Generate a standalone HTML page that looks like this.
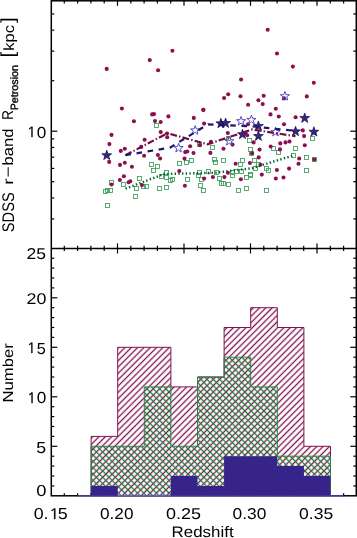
<!DOCTYPE html>
<html><head><meta charset="utf-8"><style>
html,body{margin:0;padding:0;background:#fff;width:357px;height:538px;overflow:hidden;position:relative}
</style></head><body>
<svg width="357" height="538" viewBox="0 0 357 538" style="position:absolute;left:0;top:0" text-rendering="geometricPrecision">
<g stroke="#000" stroke-width="1.5" fill="none">
<rect x="51.3" y="0.8" width="305.0" height="495.0"/>
<line x1="51.3" y1="248.4" x2="356.3" y2="248.4"/>
</g>
<g stroke="#000" stroke-width="1.2">
<line x1="64.30" y1="0.80" x2="64.30" y2="3.40"/>
<line x1="64.30" y1="248.40" x2="64.30" y2="245.80"/>
<line x1="64.30" y1="248.40" x2="64.30" y2="251.00"/>
<line x1="64.30" y1="495.80" x2="64.30" y2="493.20"/>
<line x1="77.60" y1="0.80" x2="77.60" y2="3.40"/>
<line x1="77.60" y1="248.40" x2="77.60" y2="245.80"/>
<line x1="77.60" y1="248.40" x2="77.60" y2="251.00"/>
<line x1="77.60" y1="495.80" x2="77.60" y2="493.20"/>
<line x1="90.90" y1="0.80" x2="90.90" y2="3.40"/>
<line x1="90.90" y1="248.40" x2="90.90" y2="245.80"/>
<line x1="90.90" y1="248.40" x2="90.90" y2="251.00"/>
<line x1="90.90" y1="495.80" x2="90.90" y2="493.20"/>
<line x1="104.20" y1="0.80" x2="104.20" y2="3.40"/>
<line x1="104.20" y1="248.40" x2="104.20" y2="245.80"/>
<line x1="104.20" y1="248.40" x2="104.20" y2="251.00"/>
<line x1="104.20" y1="495.80" x2="104.20" y2="493.20"/>
<line x1="117.50" y1="0.80" x2="117.50" y2="5.80"/>
<line x1="117.50" y1="248.40" x2="117.50" y2="243.40"/>
<line x1="117.50" y1="248.40" x2="117.50" y2="253.40"/>
<line x1="117.50" y1="495.80" x2="117.50" y2="490.80"/>
<line x1="130.80" y1="0.80" x2="130.80" y2="3.40"/>
<line x1="130.80" y1="248.40" x2="130.80" y2="245.80"/>
<line x1="130.80" y1="248.40" x2="130.80" y2="251.00"/>
<line x1="130.80" y1="495.80" x2="130.80" y2="493.20"/>
<line x1="144.10" y1="0.80" x2="144.10" y2="3.40"/>
<line x1="144.10" y1="248.40" x2="144.10" y2="245.80"/>
<line x1="144.10" y1="248.40" x2="144.10" y2="251.00"/>
<line x1="144.10" y1="495.80" x2="144.10" y2="493.20"/>
<line x1="157.40" y1="0.80" x2="157.40" y2="3.40"/>
<line x1="157.40" y1="248.40" x2="157.40" y2="245.80"/>
<line x1="157.40" y1="248.40" x2="157.40" y2="251.00"/>
<line x1="157.40" y1="495.80" x2="157.40" y2="493.20"/>
<line x1="170.70" y1="0.80" x2="170.70" y2="3.40"/>
<line x1="170.70" y1="248.40" x2="170.70" y2="245.80"/>
<line x1="170.70" y1="248.40" x2="170.70" y2="251.00"/>
<line x1="170.70" y1="495.80" x2="170.70" y2="493.20"/>
<line x1="184.00" y1="0.80" x2="184.00" y2="5.80"/>
<line x1="184.00" y1="248.40" x2="184.00" y2="243.40"/>
<line x1="184.00" y1="248.40" x2="184.00" y2="253.40"/>
<line x1="184.00" y1="495.80" x2="184.00" y2="490.80"/>
<line x1="197.30" y1="0.80" x2="197.30" y2="3.40"/>
<line x1="197.30" y1="248.40" x2="197.30" y2="245.80"/>
<line x1="197.30" y1="248.40" x2="197.30" y2="251.00"/>
<line x1="197.30" y1="495.80" x2="197.30" y2="493.20"/>
<line x1="210.60" y1="0.80" x2="210.60" y2="3.40"/>
<line x1="210.60" y1="248.40" x2="210.60" y2="245.80"/>
<line x1="210.60" y1="248.40" x2="210.60" y2="251.00"/>
<line x1="210.60" y1="495.80" x2="210.60" y2="493.20"/>
<line x1="223.90" y1="0.80" x2="223.90" y2="3.40"/>
<line x1="223.90" y1="248.40" x2="223.90" y2="245.80"/>
<line x1="223.90" y1="248.40" x2="223.90" y2="251.00"/>
<line x1="223.90" y1="495.80" x2="223.90" y2="493.20"/>
<line x1="237.20" y1="0.80" x2="237.20" y2="3.40"/>
<line x1="237.20" y1="248.40" x2="237.20" y2="245.80"/>
<line x1="237.20" y1="248.40" x2="237.20" y2="251.00"/>
<line x1="237.20" y1="495.80" x2="237.20" y2="493.20"/>
<line x1="250.50" y1="0.80" x2="250.50" y2="5.80"/>
<line x1="250.50" y1="248.40" x2="250.50" y2="243.40"/>
<line x1="250.50" y1="248.40" x2="250.50" y2="253.40"/>
<line x1="250.50" y1="495.80" x2="250.50" y2="490.80"/>
<line x1="263.80" y1="0.80" x2="263.80" y2="3.40"/>
<line x1="263.80" y1="248.40" x2="263.80" y2="245.80"/>
<line x1="263.80" y1="248.40" x2="263.80" y2="251.00"/>
<line x1="263.80" y1="495.80" x2="263.80" y2="493.20"/>
<line x1="277.10" y1="0.80" x2="277.10" y2="3.40"/>
<line x1="277.10" y1="248.40" x2="277.10" y2="245.80"/>
<line x1="277.10" y1="248.40" x2="277.10" y2="251.00"/>
<line x1="277.10" y1="495.80" x2="277.10" y2="493.20"/>
<line x1="290.40" y1="0.80" x2="290.40" y2="3.40"/>
<line x1="290.40" y1="248.40" x2="290.40" y2="245.80"/>
<line x1="290.40" y1="248.40" x2="290.40" y2="251.00"/>
<line x1="290.40" y1="495.80" x2="290.40" y2="493.20"/>
<line x1="303.70" y1="0.80" x2="303.70" y2="3.40"/>
<line x1="303.70" y1="248.40" x2="303.70" y2="245.80"/>
<line x1="303.70" y1="248.40" x2="303.70" y2="251.00"/>
<line x1="303.70" y1="495.80" x2="303.70" y2="493.20"/>
<line x1="317.00" y1="0.80" x2="317.00" y2="5.80"/>
<line x1="317.00" y1="248.40" x2="317.00" y2="243.40"/>
<line x1="317.00" y1="248.40" x2="317.00" y2="253.40"/>
<line x1="317.00" y1="495.80" x2="317.00" y2="490.80"/>
<line x1="330.30" y1="0.80" x2="330.30" y2="3.40"/>
<line x1="330.30" y1="248.40" x2="330.30" y2="245.80"/>
<line x1="330.30" y1="248.40" x2="330.30" y2="251.00"/>
<line x1="330.30" y1="495.80" x2="330.30" y2="493.20"/>
<line x1="343.60" y1="0.80" x2="343.60" y2="3.40"/>
<line x1="343.60" y1="248.40" x2="343.60" y2="245.80"/>
<line x1="343.60" y1="248.40" x2="343.60" y2="251.00"/>
<line x1="343.60" y1="495.80" x2="343.60" y2="493.20"/>
<line x1="51.3" y1="485.90" x2="54.3" y2="485.90"/>
<line x1="356.3" y1="485.90" x2="353.3" y2="485.90"/>
<line x1="51.3" y1="476.00" x2="54.3" y2="476.00"/>
<line x1="356.3" y1="476.00" x2="353.3" y2="476.00"/>
<line x1="51.3" y1="466.10" x2="54.3" y2="466.10"/>
<line x1="356.3" y1="466.10" x2="353.3" y2="466.10"/>
<line x1="51.3" y1="456.20" x2="54.3" y2="456.20"/>
<line x1="356.3" y1="456.20" x2="353.3" y2="456.20"/>
<line x1="51.3" y1="446.30" x2="57.3" y2="446.30"/>
<line x1="356.3" y1="446.30" x2="350.3" y2="446.30"/>
<line x1="51.3" y1="436.40" x2="54.3" y2="436.40"/>
<line x1="356.3" y1="436.40" x2="353.3" y2="436.40"/>
<line x1="51.3" y1="426.50" x2="54.3" y2="426.50"/>
<line x1="356.3" y1="426.50" x2="353.3" y2="426.50"/>
<line x1="51.3" y1="416.60" x2="54.3" y2="416.60"/>
<line x1="356.3" y1="416.60" x2="353.3" y2="416.60"/>
<line x1="51.3" y1="406.70" x2="54.3" y2="406.70"/>
<line x1="356.3" y1="406.70" x2="353.3" y2="406.70"/>
<line x1="51.3" y1="396.80" x2="57.3" y2="396.80"/>
<line x1="356.3" y1="396.80" x2="350.3" y2="396.80"/>
<line x1="51.3" y1="386.90" x2="54.3" y2="386.90"/>
<line x1="356.3" y1="386.90" x2="353.3" y2="386.90"/>
<line x1="51.3" y1="377.00" x2="54.3" y2="377.00"/>
<line x1="356.3" y1="377.00" x2="353.3" y2="377.00"/>
<line x1="51.3" y1="367.10" x2="54.3" y2="367.10"/>
<line x1="356.3" y1="367.10" x2="353.3" y2="367.10"/>
<line x1="51.3" y1="357.20" x2="54.3" y2="357.20"/>
<line x1="356.3" y1="357.20" x2="353.3" y2="357.20"/>
<line x1="51.3" y1="347.30" x2="57.3" y2="347.30"/>
<line x1="356.3" y1="347.30" x2="350.3" y2="347.30"/>
<line x1="51.3" y1="337.40" x2="54.3" y2="337.40"/>
<line x1="356.3" y1="337.40" x2="353.3" y2="337.40"/>
<line x1="51.3" y1="327.50" x2="54.3" y2="327.50"/>
<line x1="356.3" y1="327.50" x2="353.3" y2="327.50"/>
<line x1="51.3" y1="317.60" x2="54.3" y2="317.60"/>
<line x1="356.3" y1="317.60" x2="353.3" y2="317.60"/>
<line x1="51.3" y1="307.70" x2="54.3" y2="307.70"/>
<line x1="356.3" y1="307.70" x2="353.3" y2="307.70"/>
<line x1="51.3" y1="297.80" x2="57.3" y2="297.80"/>
<line x1="356.3" y1="297.80" x2="350.3" y2="297.80"/>
<line x1="51.3" y1="287.90" x2="54.3" y2="287.90"/>
<line x1="356.3" y1="287.90" x2="353.3" y2="287.90"/>
<line x1="51.3" y1="278.00" x2="54.3" y2="278.00"/>
<line x1="356.3" y1="278.00" x2="353.3" y2="278.00"/>
<line x1="51.3" y1="268.10" x2="54.3" y2="268.10"/>
<line x1="356.3" y1="268.10" x2="353.3" y2="268.10"/>
<line x1="51.3" y1="258.20" x2="54.3" y2="258.20"/>
<line x1="356.3" y1="258.20" x2="353.3" y2="258.20"/>
<line x1="51.3" y1="218.94" x2="54.3" y2="218.94"/>
<line x1="356.3" y1="218.94" x2="353.3" y2="218.94"/>
<line x1="51.3" y1="197.97" x2="54.3" y2="197.97"/>
<line x1="356.3" y1="197.97" x2="353.3" y2="197.97"/>
<line x1="51.3" y1="181.71" x2="54.3" y2="181.71"/>
<line x1="356.3" y1="181.71" x2="353.3" y2="181.71"/>
<line x1="51.3" y1="168.43" x2="54.3" y2="168.43"/>
<line x1="356.3" y1="168.43" x2="353.3" y2="168.43"/>
<line x1="51.3" y1="157.19" x2="54.3" y2="157.19"/>
<line x1="356.3" y1="157.19" x2="353.3" y2="157.19"/>
<line x1="51.3" y1="147.46" x2="54.3" y2="147.46"/>
<line x1="356.3" y1="147.46" x2="353.3" y2="147.46"/>
<line x1="51.3" y1="138.88" x2="54.3" y2="138.88"/>
<line x1="356.3" y1="138.88" x2="353.3" y2="138.88"/>
<line x1="51.3" y1="131.20" x2="57.3" y2="131.20"/>
<line x1="356.3" y1="131.20" x2="350.3" y2="131.20"/>
<line x1="51.3" y1="80.69" x2="54.3" y2="80.69"/>
<line x1="356.3" y1="80.69" x2="353.3" y2="80.69"/>
<line x1="51.3" y1="51.14" x2="54.3" y2="51.14"/>
<line x1="356.3" y1="51.14" x2="353.3" y2="51.14"/>
<line x1="51.3" y1="30.17" x2="54.3" y2="30.17"/>
<line x1="356.3" y1="30.17" x2="353.3" y2="30.17"/>
<line x1="51.3" y1="13.91" x2="54.3" y2="13.91"/>
<line x1="356.3" y1="13.91" x2="353.3" y2="13.91"/>
</g>
<defs>
<pattern id="hp" patternUnits="userSpaceOnUse" width="4.4689" height="4.4689" patternTransform="rotate(45) translate(1.209,0)"><rect x="1.584" y="-1" width="1.3" height="6.469" fill="#80124f"/></pattern>
<pattern id="hg" patternUnits="userSpaceOnUse" width="4.4689" height="4.4689" patternTransform="rotate(-45) translate(1.032,0)"><rect x="1.594" y="-1" width="1.28" height="6.469" fill="#157c35"/></pattern>
</defs>
<path d="M91.10,495.80 L91.10,436.40 L117.70,436.40 L117.70,347.30 L144.30,347.30 L144.30,347.30 L170.90,347.30 L170.90,386.90 L197.50,386.90 L197.50,377.00 L224.10,377.00 L224.10,327.50 L250.70,327.50 L250.70,307.70 L277.30,307.70 L277.30,327.50 L303.90,327.50 L303.90,446.30 L330.50,446.30 L330.50,495.80 Z" fill="#fff" stroke="none"/>
<path d="M91.10,495.80 L91.10,436.40 L117.70,436.40 L117.70,347.30 L144.30,347.30 L144.30,347.30 L170.90,347.30 L170.90,386.90 L197.50,386.90 L197.50,377.00 L224.10,377.00 L224.10,327.50 L250.70,327.50 L250.70,307.70 L277.30,307.70 L277.30,327.50 L303.90,327.50 L303.90,446.30 L330.50,446.30 L330.50,495.80 Z" fill="url(#hp)" stroke="none"/>
<path d="M91.10,495.80 L91.10,446.30 L117.70,446.30 L117.70,446.30 L144.30,446.30 L144.30,386.90 L170.90,386.90 L170.90,446.30 L197.50,446.30 L197.50,377.00 L224.10,377.00 L224.10,357.20 L250.70,357.20 L250.70,386.90 L277.30,386.90 L277.30,456.20 L303.90,456.20 L303.90,456.20 L330.50,456.20 L330.50,495.80 Z" fill="url(#hg)" stroke="none"/>
<path d="M91.10,495.80 L91.10,436.40 L117.70,436.40 L117.70,347.30 L144.30,347.30 L144.30,347.30 L170.90,347.30 L170.90,386.90 L197.50,386.90 L197.50,377.00 L224.10,377.00 L224.10,327.50 L250.70,327.50 L250.70,307.70 L277.30,307.70 L277.30,327.50 L303.90,327.50 L303.90,446.30 L330.50,446.30 L330.50,495.80" fill="none" stroke="#80124f" stroke-width="1"/>
<path d="M91.10,495.80 L91.10,446.30 L117.70,446.30 L117.70,446.30 L144.30,446.30 L144.30,386.90 L170.90,386.90 L170.90,446.30 L197.50,446.30 L197.50,377.00 L224.10,377.00 L224.10,357.20 L250.70,357.20 L250.70,386.90 L277.30,386.90 L277.30,456.20 L303.90,456.20 L303.90,456.20 L330.50,456.20 L330.50,495.80" fill="none" stroke="#1f8a3c" stroke-width="1"/>
<line x1="77.60" y1="495.80" x2="343.60" y2="495.80" stroke="#5b45c8" stroke-width="1.2"/>
<path d="M91.10,495.80 L91.10,485.90 L117.70,485.90 L117.70,495.80 L144.30,495.80 L144.30,495.80 L170.90,495.80 L170.90,476.00 L197.50,476.00 L197.50,485.90 L224.10,485.90 L224.10,456.20 L250.70,456.20 L250.70,456.20 L277.30,456.20 L277.30,466.10 L303.90,466.10 L303.90,476.00 L330.50,476.00 L330.50,495.80 Z" fill="#36248a" stroke="none"/>
<g fill="none" stroke="#3a9e5c" stroke-width="0.85">
<rect x="154.5" y="123.5" width="4" height="4"/>
<rect x="109.5" y="180.5" width="4" height="4"/>
<rect x="103.5" y="189.5" width="4" height="4"/>
<rect x="105.5" y="188.5" width="4" height="4"/>
<rect x="108.5" y="188.5" width="4" height="4"/>
<rect x="121.5" y="182.5" width="4" height="4"/>
<rect x="134.5" y="186.5" width="4" height="4"/>
<rect x="137.5" y="176.5" width="4" height="4"/>
<rect x="133.5" y="194.5" width="4" height="4"/>
<rect x="105.5" y="203.5" width="4" height="4"/>
<rect x="141.5" y="184.5" width="4" height="4"/>
<rect x="149.5" y="162.5" width="4" height="4"/>
<rect x="155.5" y="164.5" width="4" height="4"/>
<rect x="151.5" y="168.5" width="4" height="4"/>
<rect x="177.5" y="161.5" width="4" height="4"/>
<rect x="184.5" y="160.5" width="4" height="4"/>
<rect x="189.5" y="158.5" width="4" height="4"/>
<rect x="164.5" y="170.5" width="4" height="4"/>
<rect x="144.5" y="184.5" width="4" height="4"/>
<rect x="157.5" y="186.5" width="4" height="4"/>
<rect x="164.5" y="185.5" width="4" height="4"/>
<rect x="159.5" y="174.5" width="4" height="4"/>
<rect x="164.5" y="175.5" width="4" height="4"/>
<rect x="168.5" y="178.5" width="4" height="4"/>
<rect x="170.5" y="177.5" width="4" height="4"/>
<rect x="185.5" y="177.5" width="4" height="4"/>
<rect x="197.5" y="142.5" width="4" height="4"/>
<rect x="210.5" y="145.5" width="4" height="4"/>
<rect x="226.5" y="136.5" width="4" height="4"/>
<rect x="212.5" y="157.5" width="4" height="4"/>
<rect x="213.5" y="160.5" width="4" height="4"/>
<rect x="221.5" y="158.5" width="4" height="4"/>
<rect x="238.5" y="162.5" width="4" height="4"/>
<rect x="240.5" y="158.5" width="4" height="4"/>
<rect x="197.5" y="170.5" width="4" height="4"/>
<rect x="206.5" y="169.5" width="4" height="4"/>
<rect x="214.5" y="170.5" width="4" height="4"/>
<rect x="230.5" y="170.5" width="4" height="4"/>
<rect x="234.5" y="169.5" width="4" height="4"/>
<rect x="239.5" y="169.5" width="4" height="4"/>
<rect x="196.5" y="173.5" width="4" height="4"/>
<rect x="199.5" y="177.5" width="4" height="4"/>
<rect x="198.5" y="183.5" width="4" height="4"/>
<rect x="201.5" y="188.5" width="4" height="4"/>
<rect x="217.5" y="176.5" width="4" height="4"/>
<rect x="219.5" y="181.5" width="4" height="4"/>
<rect x="221.5" y="181.5" width="4" height="4"/>
<rect x="226.5" y="182.5" width="4" height="4"/>
<rect x="230.5" y="173.5" width="4" height="4"/>
<rect x="236.5" y="188.5" width="4" height="4"/>
<rect x="247.5" y="138.5" width="4" height="4"/>
<rect x="248.5" y="147.5" width="4" height="4"/>
<rect x="249.5" y="151.5" width="4" height="4"/>
<rect x="271.5" y="146.5" width="4" height="4"/>
<rect x="276.5" y="150.5" width="4" height="4"/>
<rect x="293.5" y="146.5" width="4" height="4"/>
<rect x="291.5" y="153.5" width="4" height="4"/>
<rect x="252.5" y="158.5" width="4" height="4"/>
<rect x="253.5" y="166.5" width="4" height="4"/>
<rect x="256.5" y="162.5" width="4" height="4"/>
<rect x="264.5" y="166.5" width="4" height="4"/>
<rect x="266.5" y="168.5" width="4" height="4"/>
<rect x="248.5" y="172.5" width="4" height="4"/>
<rect x="244.5" y="175.5" width="4" height="4"/>
<rect x="248.5" y="173.5" width="4" height="4"/>
<rect x="244.5" y="186.5" width="4" height="4"/>
<rect x="264.5" y="188.5" width="4" height="4"/>
<rect x="310.5" y="136.5" width="4" height="4"/>
<rect x="304.5" y="155.5" width="4" height="4"/>
<rect x="312.5" y="157.5" width="4" height="4"/>
<rect x="304.5" y="168.5" width="4" height="4"/>
</g>
<g fill="#8c1050">
<circle cx="106.7" cy="68.9" r="2.05"/>
<circle cx="149.8" cy="60.1" r="2.05"/>
<circle cx="158.1" cy="70.2" r="2.05"/>
<circle cx="172.4" cy="50.8" r="2.05"/>
<circle cx="241.1" cy="79.5" r="2.05"/>
<circle cx="267.7" cy="29.8" r="2.05"/>
<circle cx="277.0" cy="53.5" r="2.05"/>
<circle cx="292.9" cy="66.6" r="2.05"/>
<circle cx="313.8" cy="82.8" r="2.05"/>
<circle cx="306.8" cy="96.4" r="2.05"/>
<circle cx="228.2" cy="94.2" r="2.05"/>
<circle cx="224.1" cy="98.0" r="2.05"/>
<circle cx="240.5" cy="96.3" r="2.05"/>
<circle cx="248.1" cy="104.7" r="2.05"/>
<circle cx="258.4" cy="100.2" r="2.05"/>
<circle cx="263.7" cy="95.8" r="2.05"/>
<circle cx="262.7" cy="104.1" r="2.05"/>
<circle cx="270.5" cy="114.4" r="2.05"/>
<circle cx="275.8" cy="108.8" r="2.05"/>
<circle cx="284.1" cy="98.4" r="2.05"/>
<circle cx="278.8" cy="116.5" r="2.05"/>
<circle cx="295.6" cy="117.3" r="2.05"/>
<circle cx="121.9" cy="108.5" r="2.05"/>
<circle cx="133.9" cy="121.3" r="2.05"/>
<circle cx="111.5" cy="134.9" r="2.05"/>
<circle cx="152.1" cy="114.4" r="2.05"/>
<circle cx="154.0" cy="114.1" r="2.05"/>
<circle cx="168.4" cy="116.4" r="2.05"/>
<circle cx="155.0" cy="121.0" r="2.05"/>
<circle cx="160.7" cy="122.0" r="2.05"/>
<circle cx="193.8" cy="117.9" r="2.05"/>
<circle cx="203.3" cy="109.9" r="2.05"/>
<circle cx="160.7" cy="132.1" r="2.05"/>
<circle cx="167.0" cy="133.5" r="2.05"/>
<circle cx="167.2" cy="137.3" r="2.05"/>
<circle cx="144.6" cy="139.7" r="2.05"/>
<circle cx="141.2" cy="146.9" r="2.05"/>
<circle cx="144.1" cy="155.8" r="2.05"/>
<circle cx="109.4" cy="144.1" r="2.05"/>
<circle cx="109.2" cy="161.9" r="2.05"/>
<circle cx="120.8" cy="150.9" r="2.05"/>
<circle cx="124.8" cy="148.7" r="2.05"/>
<circle cx="120.0" cy="164.9" r="2.05"/>
<circle cx="124.8" cy="162.7" r="2.05"/>
<circle cx="131.9" cy="166.7" r="2.05"/>
<circle cx="123.9" cy="176.2" r="2.05"/>
<circle cx="119.9" cy="180.0" r="2.05"/>
<circle cx="128.6" cy="182.3" r="2.05"/>
<circle cx="130.3" cy="181.3" r="2.05"/>
<circle cx="111.5" cy="184.5" r="2.05"/>
<circle cx="141.9" cy="185.1" r="2.05"/>
<circle cx="157.9" cy="155.0" r="2.05"/>
<circle cx="160.1" cy="158.5" r="2.05"/>
<circle cx="190.1" cy="146.2" r="2.05"/>
<circle cx="185.2" cy="152.1" r="2.05"/>
<circle cx="187.3" cy="151.5" r="2.05"/>
<circle cx="193.5" cy="153.0" r="2.05"/>
<circle cx="184.5" cy="158.5" r="2.05"/>
<circle cx="179.3" cy="171.1" r="2.05"/>
<circle cx="210.4" cy="152.9" r="2.05"/>
<circle cx="223.5" cy="148.8" r="2.05"/>
<circle cx="210.9" cy="141.8" r="2.05"/>
<circle cx="204.1" cy="123.6" r="2.05"/>
<circle cx="203.4" cy="109.8" r="2.05"/>
<circle cx="199.9" cy="145.1" r="2.05"/>
<circle cx="184.9" cy="185.8" r="2.05"/>
<circle cx="204.1" cy="178.5" r="2.05"/>
<circle cx="212.9" cy="177.1" r="2.05"/>
<circle cx="224.4" cy="177.1" r="2.05"/>
<circle cx="240.9" cy="179.2" r="2.05"/>
<circle cx="227.9" cy="172.8" r="2.05"/>
<circle cx="235.6" cy="163.7" r="2.05"/>
<circle cx="232.5" cy="144.6" r="2.05"/>
<circle cx="227.8" cy="133.0" r="2.05"/>
<circle cx="247.2" cy="135.3" r="2.05"/>
<circle cx="248.0" cy="124.3" r="2.05"/>
<circle cx="253.6" cy="142.4" r="2.05"/>
<circle cx="259.6" cy="149.6" r="2.05"/>
<circle cx="270.7" cy="146.5" r="2.05"/>
<circle cx="280.3" cy="143.4" r="2.05"/>
<circle cx="285.5" cy="142.4" r="2.05"/>
<circle cx="289.5" cy="141.5" r="2.05"/>
<circle cx="280.0" cy="149.4" r="2.05"/>
<circle cx="252.0" cy="153.2" r="2.05"/>
<circle cx="258.7" cy="157.4" r="2.05"/>
<circle cx="249.9" cy="163.0" r="2.05"/>
<circle cx="260.4" cy="164.7" r="2.05"/>
<circle cx="276.9" cy="170.0" r="2.05"/>
<circle cx="289.1" cy="168.6" r="2.05"/>
<circle cx="261.8" cy="174.6" r="2.05"/>
<circle cx="275.8" cy="178.5" r="2.05"/>
<circle cx="283.5" cy="177.5" r="2.05"/>
<circle cx="284.0" cy="124.3" r="2.05"/>
<circle cx="302.8" cy="130.4" r="2.05"/>
<circle cx="304.1" cy="136.1" r="2.05"/>
<circle cx="304.8" cy="145.2" r="2.05"/>
<circle cx="299.2" cy="158.5" r="2.05"/>
<circle cx="298.5" cy="163.7" r="2.05"/>
<circle cx="314.3" cy="159.5" r="2.05"/>
</g>
<g fill="#36248a" stroke="#140f40" stroke-width="0.7" stroke-linejoin="miter">
<polygon points="106.75,150.20 107.97,153.72 111.70,153.79 108.73,156.04 109.81,159.61 106.75,157.48 103.69,159.61 104.77,156.04 101.80,153.79 105.53,153.72"/>
<polygon points="220.90,118.30 222.12,121.82 225.85,121.89 222.88,124.14 223.96,127.71 220.90,125.58 217.84,127.71 218.92,124.14 215.95,121.89 219.68,121.82"/>
<polygon points="225.60,118.00 226.82,121.52 230.55,121.59 227.58,123.84 228.66,127.41 225.60,125.28 222.54,127.41 223.62,123.84 220.65,121.59 224.38,121.52"/>
<polygon points="242.50,129.20 243.72,132.72 247.45,132.79 244.48,135.04 245.56,138.61 242.50,136.48 239.44,138.61 240.52,135.04 237.55,132.79 241.28,132.72"/>
<polygon points="258.40,120.90 259.62,124.42 263.35,124.49 260.38,126.74 261.46,130.31 258.40,128.18 255.34,130.31 256.42,126.74 253.45,124.49 257.18,124.42"/>
<polygon points="258.40,131.00 259.62,134.52 263.35,134.59 260.38,136.84 261.46,140.41 258.40,138.28 255.34,140.41 256.42,136.84 253.45,134.59 257.18,134.52"/>
<polygon points="295.60,126.30 296.82,129.82 300.55,129.89 297.58,132.14 298.66,135.71 295.60,133.58 292.54,135.71 293.62,132.14 290.65,129.89 294.38,129.82"/>
<polygon points="304.70,113.00 305.92,116.52 309.65,116.59 306.68,118.84 307.76,122.41 304.70,120.28 301.64,122.41 302.72,118.84 299.75,116.59 303.48,116.52"/>
<polygon points="313.90,126.70 315.12,130.22 318.85,130.29 315.88,132.54 316.96,136.11 313.90,133.98 310.84,136.11 311.92,132.54 308.95,130.29 312.68,130.22"/>
</g>
<g fill="none" stroke="#463cc4" stroke-width="0.9">
<polygon points="178.60,143.30 179.73,146.55 183.17,146.62 180.43,148.69 181.42,151.98 178.60,150.02 175.78,151.98 176.77,148.69 174.03,146.62 177.47,146.55"/>
<polygon points="195.20,125.60 196.33,128.85 199.77,128.92 197.03,130.99 198.02,134.28 195.20,132.32 192.38,134.28 193.37,130.99 190.63,128.92 194.07,128.85"/>
<polygon points="229.30,136.40 230.43,139.65 233.87,139.72 231.13,141.79 232.12,145.08 229.30,143.12 226.48,145.08 227.47,141.79 224.73,139.72 228.17,139.65"/>
<polygon points="241.10,116.40 242.23,119.65 245.67,119.72 242.93,121.79 243.92,125.08 241.10,123.12 238.28,125.08 239.27,121.79 236.53,119.72 239.97,119.65"/>
<polygon points="251.40,115.10 252.53,118.35 255.97,118.42 253.23,120.49 254.22,123.78 251.40,121.82 248.58,123.78 249.57,120.49 246.83,118.42 250.27,118.35"/>
<polygon points="275.50,127.30 276.63,130.55 280.07,130.62 277.33,132.69 278.32,135.98 275.50,134.02 272.68,135.98 273.67,132.69 270.93,130.62 274.37,130.55"/>
<polygon points="284.90,91.40 286.03,94.65 289.47,94.72 286.73,96.79 287.72,100.08 284.90,98.12 282.08,100.08 283.07,96.79 280.33,94.72 283.77,94.65"/>
</g>
<polyline points="125.5,188.7 164,174.0 215,172.8 252,168.2 293.5,155.4" fill="none" stroke="#0b5e26" stroke-width="2.4" stroke-dasharray="1.4 2.3"/>
<polyline points="125.5,155.2 167.5,133.2 207.5,144.3 252,129.5 295.5,136.2" fill="none" stroke="#6e0f45" stroke-width="2.2" stroke-dasharray="6.8 2.2 1.4 2.2"/>
<polyline points="125.5,155.2 170,147.6 208,124.3 252,126.3 295.5,130.9" fill="none" stroke="#1c1870" stroke-width="2.2" stroke-dasharray="5.6 5.6"/>
<text transform="scale(1.1274,1)"><tspan x="29.87" y="518.95" font-family="'Liberation Sans', Arial, Helvetica, sans-serif" font-size="15.819">0.</tspan><tspan x="43.79" y="518.56" font-family="NanumGothic, 'Liberation Sans', sans-serif" font-size="14.343" stroke="#000" stroke-width="0.35">1</tspan><tspan x="51.30" y="518.84" font-family="'Liberation Sans', Arial, Helvetica, sans-serif" font-size="15.908">5</tspan></text>
<text font-family="'Liberation Sans', Arial, Helvetica, sans-serif" font-size="15.678" font-weight="normal" transform="translate(100.03,518.65) scale(1.0960,1)">0.20</text>
<text font-family="'Liberation Sans', Arial, Helvetica, sans-serif" font-size="15.678" font-weight="normal" transform="translate(166.00,518.65) scale(1.1490,1)">0.25</text>
<text font-family="'Liberation Sans', Arial, Helvetica, sans-serif" font-size="15.678" font-weight="normal" transform="translate(232.62,518.65) scale(1.1096,1)">0.30</text>
<text font-family="'Liberation Sans', Arial, Helvetica, sans-serif" font-size="15.678" font-weight="normal" transform="translate(299.12,518.65) scale(1.1182,1)">0.35</text>
<text font-family="'Liberation Sans', Arial, Helvetica, sans-serif" font-size="15.251" font-weight="normal" transform="translate(171.61,537.25) scale(1.1084,1)">Redshift</text>
<text font-family="'Liberation Sans', Arial, Helvetica, sans-serif" font-size="15.819" font-weight="normal" transform="translate(36.18,496.25) scale(1.1637,1)">0</text>
<text font-family="'Liberation Sans', Arial, Helvetica, sans-serif" font-size="16.052" font-weight="normal" transform="translate(36.19,452.64) scale(1.1038,1)">5</text>
<text transform="scale(1.0748,1)"><tspan x="25.06" y="402.96" font-family="NanumGothic, 'Liberation Sans', sans-serif" font-size="14.075" stroke="#000" stroke-width="0.35">1</tspan><tspan x="34.17" y="403.44" font-family="'Liberation Sans', Arial, Helvetica, sans-serif" font-size="15.960">0</tspan></text>
<text transform="scale(1.0118,1)"><tspan x="26.81" y="353.06" font-family="NanumGothic, 'Liberation Sans', sans-serif" font-size="14.209" stroke="#000" stroke-width="0.35">1</tspan><tspan x="36.32" y="353.54" font-family="'Liberation Sans', Arial, Helvetica, sans-serif" font-size="16.052">5</tspan></text>
<text font-family="'Liberation Sans', Arial, Helvetica, sans-serif" font-size="15.537" font-weight="normal" transform="translate(26.50,304.05) scale(1.1514,1)">20</text>
<text font-family="'Liberation Sans', Arial, Helvetica, sans-serif" font-size="15.678" font-weight="normal" transform="translate(26.52,258.95) scale(1.1193,1)">25</text>
<text transform="scale(1.0654,1)"><tspan x="25.35" y="136.86" font-family="NanumGothic, 'Liberation Sans', sans-serif" font-size="13.941" stroke="#000" stroke-width="0.35">1</tspan><tspan x="34.48" y="137.54" font-family="'Liberation Sans', Arial, Helvetica, sans-serif" font-size="16.102">0</tspan></text>
<text font-family="'Liberation Sans', Arial, Helvetica, sans-serif" font-size="14.570" font-weight="normal"  transform="translate(13.16,402.57) rotate(-90) scale(1.1472,1)">Number</text>
<text font-family="'Liberation Sans', Arial, Helvetica, sans-serif" transform="rotate(-90)"><tspan x="-232.16" y="13.64" font-size="16.808" textLength="39.84" lengthAdjust="spacingAndGlyphs">SDSS</tspan> <tspan x="-184.85" y="12.90" font-size="13.938" textLength="6.26" lengthAdjust="spacingAndGlyphs">r</tspan><tspan x="-177.53" y="13.32" font-size="14.500" textLength="11.06" lengthAdjust="spacingAndGlyphs">−</tspan><tspan x="-165.47" y="13.46" font-size="14.843" textLength="36.94" lengthAdjust="spacingAndGlyphs">band</tspan> <tspan x="-119.93" y="13.00" font-size="15.698" textLength="9.97" lengthAdjust="spacingAndGlyphs">R</tspan><tspan x="-110.38" y="17.60" font-size="10.621" textLength="45.48" lengthAdjust="spacingAndGlyphs" stroke="#000" stroke-width="0.35">Petrosion</tspan> <tspan x="-57.36" y="13.68" font-size="18.882" textLength="5.31" lengthAdjust="spacingAndGlyphs">[</tspan><tspan x="-50.82" y="13.63" font-size="14.805" textLength="25.75" lengthAdjust="spacingAndGlyphs">kpc</tspan><tspan x="-23.06" y="13.68" font-size="18.882" textLength="5.73" lengthAdjust="spacingAndGlyphs">]</tspan></text>
</svg>
</body></html>
